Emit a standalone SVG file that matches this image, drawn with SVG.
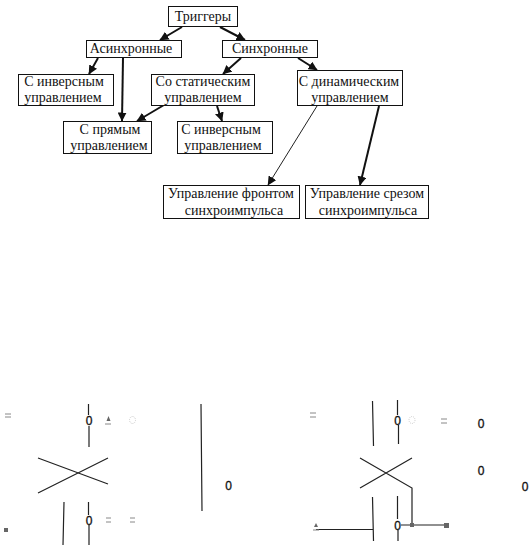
<svg xmlns="http://www.w3.org/2000/svg" width="530" height="545" viewBox="0 0 530 545">
<style>
.b{fill:#fff;stroke:#111;stroke-width:1}
text{font-family:"Liberation Serif","Times New Roman",serif;font-size:14px;fill:#111;text-anchor:middle}
.c{fill:none;stroke:#111;stroke-width:2}
.t{fill:none;stroke:#222;stroke-width:1}
.l{fill:none;stroke:#222;stroke-width:1.2}
text.o{font-family:"Liberation Sans",Arial,sans-serif;font-size:12px;fill:#111;stroke:#111;stroke-width:.3}
.m{fill:none;stroke:#888;stroke-width:1}
.d{fill:#666}
.p{fill:none;stroke:#ccc;stroke-width:1;stroke-dasharray:1 1}
</style>
<defs>
<marker id="a" viewBox="0 0 9 9" refX="8.500" refY="4.500" markerWidth="9" markerHeight="9" markerUnits="userSpaceOnUse" orient="auto"><path d="M0 0L9 4.500L0 9z" fill="#111"/></marker>
</defs>
<rect width="530" height="545" fill="#fff"/>
<g id="connectors">
<path class="c" marker-end="url(#a)" d="M182 27L160 40"/>
<path class="c" marker-end="url(#a)" d="M220 27L245 40"/>
<path class="c" marker-end="url(#a)" d="M98 58L89 74"/>
<path class="c" marker-end="url(#a)" d="M123 58L122 121"/>
<path class="c" marker-end="url(#a)" d="M164 105L137 121"/>
<path class="c" marker-end="url(#a)" d="M217 106L222 121"/>
<path class="c" marker-end="url(#a)" d="M241 58L223 74"/>
<path class="c" marker-end="url(#a)" d="M298 58L317 70"/>
<path class="t" marker-end="url(#a)" d="M317 106L268 185"/>
<path class="c" marker-end="url(#a)" d="M379 106L360 185"/>
</g>
<g id="n-triggers"><rect class="b" x="168.500" y="6.500" width="69" height="20"/><text x="203" y="21">Триггеры</text></g>
<g id="n-async"><rect class="b" x="86.500" y="40.500" width="95" height="17"/><text x="131" y="53">Асинхронные</text></g>
<g id="n-sync"><rect class="b" x="222.500" y="40.500" width="95" height="17"/><text x="270" y="53">Синхронные</text></g>
<g id="n-inv1"><rect class="b" x="18.500" y="74.500" width="95" height="31"/><text x="64" y="86">С инверсным</text><text x="63" y="102">управлением</text></g>
<g id="n-static"><rect class="b" x="151.500" y="74.500" width="103" height="31"/><text x="203" y="86">Со статическим</text><text x="203" y="102">управлением</text></g>
<g id="n-dyn"><rect class="b" x="297.500" y="70.500" width="105" height="35"/><text x="349" y="86">С динамическим</text><text x="350" y="102">управлением</text></g>
<g id="n-direct"><rect class="b" x="63.500" y="121.500" width="88" height="32"/><text x="110" y="134">С прямым</text><text x="109" y="150">управлением</text></g>
<g id="n-inv2"><rect class="b" x="177.500" y="121.500" width="95" height="32"/><text x="221" y="134">С инверсным</text><text x="223" y="150">управлением</text></g>
<g id="n-front"><rect class="b" x="163.500" y="185.500" width="136" height="33"/><text x="231" y="198">Управление фронтом</text><text x="234" y="215">синхроимпульса</text></g>
<g id="n-cut"><rect class="b" x="305.500" y="185.500" width="123" height="33"/><text x="367" y="198">Управление срезом</text><text x="368" y="215">синхроимпульса</text></g>
<g id="scheme-left">
<path class="l" d="M88.500 404V415M89 426V447M38 458L108 484M38 493L108 458M64 502L63 545M88.500 502V515M89 525V545M201 404L202 511"/>
<text class="o" x="89" y="425">0</text><text class="o" x="89" y="524.500">0</text><text class="o" x="228.500" y="489.500">0</text>
<path class="m" d="M5 414H11M5 417H11M105 424H111M106 518H111M106 522H111M130 518H135M130 522H135"/>
<path class="d" d="M106.500 421L108.500 416L110.500 421zM4 528H8V532H4z"/>
<ellipse class="p" cx="132.500" cy="420" rx="3" ry="3.500"/>
</g>
<g id="scheme-right">
<path class="l" d="M372.500 401L373.500 446M397.500 400V415M398.500 425V444M360 458L412 488V525M360 488L412 458M372.500 497L373.500 541M397.500 496V519M398 530V541M401 525H446M316 529.500H373"/>
<text class="o" x="397.500" y="424.500">0</text><text class="o" x="397.500" y="529.500">0</text><text class="o" x="481" y="427.500">0</text><text class="o" x="481" y="474.500">0</text><text class="o" x="525" y="490.500">0</text>
<path class="m" d="M310 413H316M310 417H316M441 419H447M441 423H447M313 530H319"/>
<ellipse class="p" cx="412" cy="420" rx="3" ry="3.500"/>
<path class="d" d="M410 523H414V527H410zM444 523H449V528H444zM314 527L316 523L318 527z"/>
</g>
</svg>
